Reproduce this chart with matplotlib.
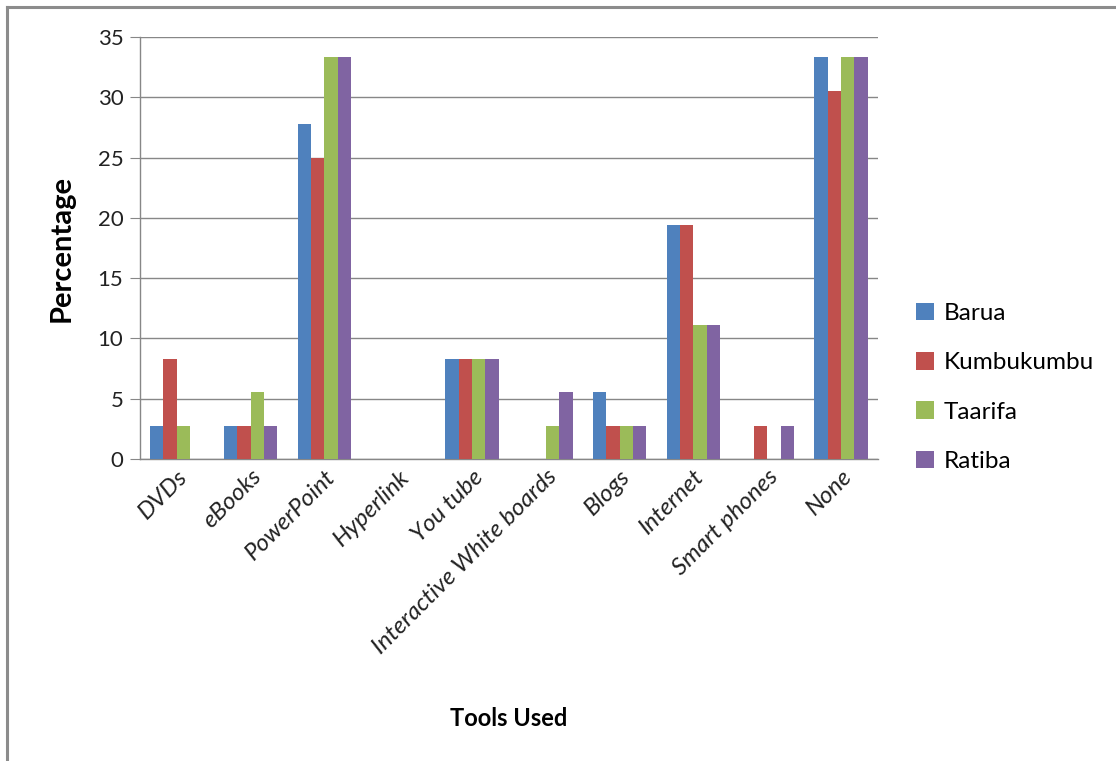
import numpy as np
import matplotlib
matplotlib.use("Agg")
import matplotlib.pyplot as plt
from matplotlib.lines import Line2D

tools = ["DVDs", "eBooks", "PowerPoint", "Hyperlink", "You tube",
         "Interactive White boards", "Blogs", "Internet", "Smart phones", "None"]

barua = [2.78, 2.78, 27.78, 0, 8.33, 0, 5.56, 19.44, 0, 33.33]
kumbukumbu = [8.33, 2.78, 25.0, 0, 8.33, 0, 2.78, 19.44, 2.78, 30.56]
taarifa = [2.78, 5.56, 33.33, 0, 8.33, 2.78, 2.78, 11.11, 0, 33.33]
ratiba = [0, 2.78, 33.33, 0, 8.33, 5.56, 2.78, 11.11, 2.78, 33.33]

series_names = ["Barua", "Kumbukumbu", "Taarifa", "Ratiba"]
colors = ["#4F81BD", "#C0504D", "#9BBB59", "#8064A2"]

plt.rcParams["font.family"] = ["Lato", "DejaVu Sans"]

fig = plt.figure(figsize=(11.16, 7.61), dpi=100)
ax = fig.add_axes([0.1254, 0.3968, 0.6613, 0.5546])

x = np.arange(len(tools))
w = 1 / 5.5
for i, (vals, name, c) in enumerate(zip([barua, kumbukumbu, taarifa, ratiba], series_names, colors)):
    ax.bar(x + (i - 1.5) * w, vals, width=w, color=c, label=name, zorder=3)

ax.set_xlim(-0.5, len(tools) - 0.5)
ax.set_ylim(0, 35)
ax.set_yticks(np.arange(0, 36, 5))
ax.yaxis.grid(True, color="#878787", linewidth=1.0, zorder=0)
ax.tick_params(axis="y", labelsize=16, length=7, color="#878787", pad=5, labelcolor="#222222")
ax.tick_params(axis="x", length=0, pad=5)
ax.set_xticks(x)
ax.set_xticklabels(tools, rotation=45, ha="right", rotation_mode="anchor",
                   fontsize=17.5, fontstyle="italic", color="#222222")

for s in ["top", "right"]:
    ax.spines[s].set_visible(False)
for s in ["left", "bottom"]:
    ax.spines[s].set_color("#878787")
    ax.spines[s].set_linewidth(1.0)

ax.set_ylabel("Percentage", fontsize=21, fontweight="bold")
ax.yaxis.set_label_coords(-0.088, 0.5)
ax.set_xlabel("Tools Used", fontsize=17, fontweight="bold")
ax.xaxis.set_label_coords(0.5, -0.588)

leg = ax.legend(loc="center left", bbox_to_anchor=(1.035, 0.17), frameon=False,
                fontsize=17.5, handlelength=0.75, handleheight=0.75, labelspacing=1.15,
                handletextpad=0.4, borderpad=0)

# outer frame (top and left edges only)
fig.add_artist(Line2D([0.0065, 1.0], [0.9908, 0.9908], color="#8c8c8c", linewidth=2.2))
fig.add_artist(Line2D([0.0065, 0.0065], [0.0, 0.9908], color="#8c8c8c", linewidth=2.2))

fig.savefig("out.png", dpi=100, facecolor="white")
